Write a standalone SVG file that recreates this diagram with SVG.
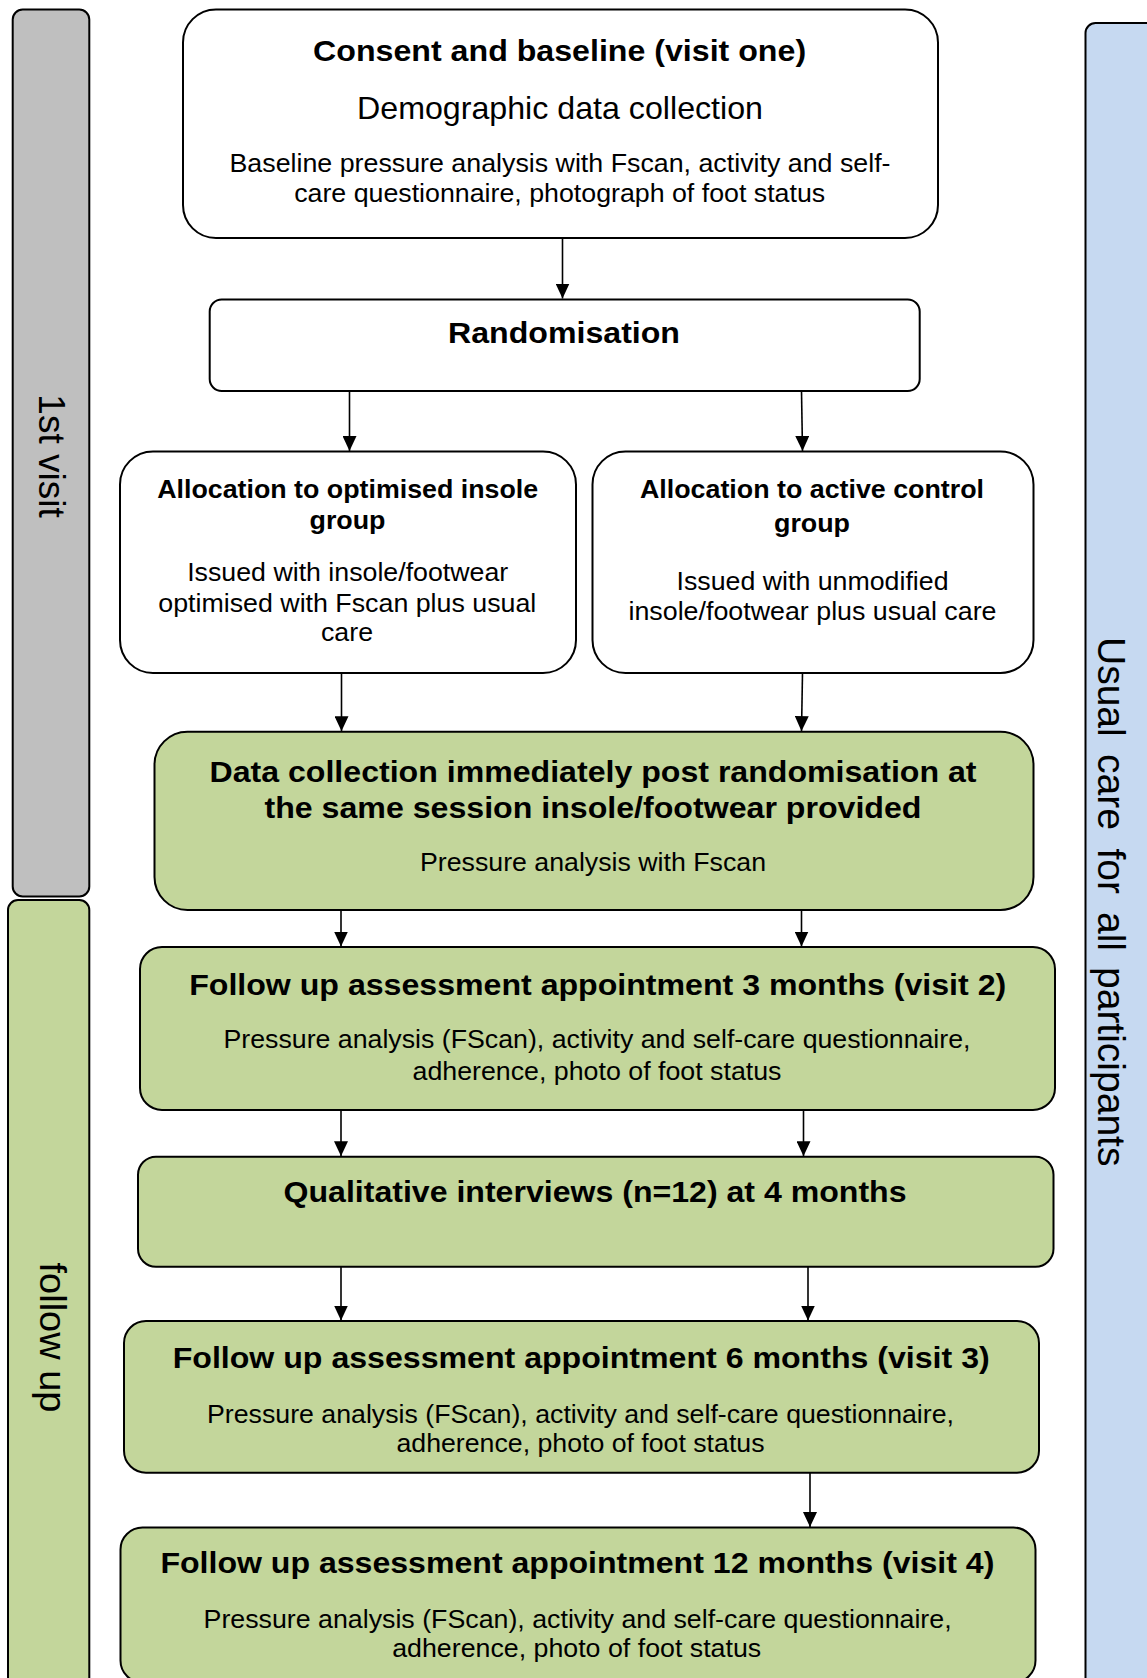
<svg xmlns="http://www.w3.org/2000/svg" width="1147" height="1678" viewBox="0 0 1147 1678">
<style>
  .box { stroke: #000; stroke-width: 2; }
  .white { fill: #ffffff; }
  .green { fill: #c3d69b; }
  .gray { fill: #bfbfbf; }
  .blue { fill: #c6d9f1; }
  text { font-family: "Liberation Sans", Arial, sans-serif; fill: #000; text-anchor: middle; }
  .t30 { font-size: 30px; font-weight: bold; }
  .t25b { font-size: 25px; font-weight: bold; }
  .t25 { font-size: 25px; }
  .t32 { font-size: 32px; }
  .side { font-size: 37px; }
  .usual { font-size: 39px; text-anchor: start; }
  .conn line { stroke: #000; stroke-width: 1.6; fill: none; }
</style>
<defs>
  <marker id="arrow" viewBox="0 0 15 14" refX="15" refY="7" markerWidth="15" markerHeight="14" markerUnits="userSpaceOnUse" orient="auto">
    <path d="M0,0 L15,7 L0,14 z" fill="#000"/>
  </marker>
</defs>
<rect width="1147" height="1678" fill="#ffffff"/>

<g id="bar-first-visit">
  <rect class="box gray" x="12.7" y="9.5" width="76.6" height="887" rx="10"/>
  <text class="side" transform="translate(38.5 456) rotate(90)">1st visit</text>
</g>
<g id="bar-follow-up">
  <rect class="box green" x="8" y="900" width="81.3" height="800" rx="10"/>
  <text class="side" transform="translate(40 1337.5) rotate(90)" textLength="150" lengthAdjust="spacingAndGlyphs">follow up</text>
</g>
<g id="bar-usual-care">
  <rect class="box blue" x="1085.5" y="23" width="80" height="1680" rx="10"/>
  <text class="usual" transform="translate(1098 0) rotate(90)"><tspan x="637">Usual</tspan><tspan x="754">care</tspan><tspan x="848.5">for</tspan><tspan x="912">all</tspan><tspan x="967">participants</tspan></text>
</g>

<g id="consent">
  <rect class="box white" x="183" y="9.5" width="755" height="228.5" rx="33"/>
  <text class="t30" x="559.6" y="60.5" textLength="493" lengthAdjust="spacingAndGlyphs">Consent and baseline (visit one)</text>
  <text class="t32" x="560" y="118.8" textLength="406" lengthAdjust="spacingAndGlyphs">Demographic data collection</text>
  <text class="t25" x="560" y="171.7" textLength="661" lengthAdjust="spacingAndGlyphs">Baseline pressure analysis with Fscan, activity and self-</text>
  <text class="t25" x="559.7" y="201.5" textLength="531" lengthAdjust="spacingAndGlyphs">care questionnaire, photograph of foot status</text>
</g>

<g id="randomisation">
  <rect class="box white" x="209.7" y="299.5" width="710" height="91.5" rx="12"/>
  <text class="t30" x="564" y="343.3" textLength="232" lengthAdjust="spacingAndGlyphs">Randomisation</text>
</g>

<g id="alloc-optimised">
  <rect class="box white" x="120" y="451.5" width="456" height="221.5" rx="33"/>
  <text class="t25b" x="347.7" y="497.8" textLength="381" lengthAdjust="spacingAndGlyphs">Allocation to optimised insole</text>
  <text class="t25b" x="347.5" y="529" textLength="76" lengthAdjust="spacingAndGlyphs">group</text>
  <text class="t25" x="347.7" y="580.7" textLength="321" lengthAdjust="spacingAndGlyphs">Issued with insole/footwear</text>
  <text class="t25" x="347.3" y="611.7" textLength="378" lengthAdjust="spacingAndGlyphs">optimised with Fscan plus usual</text>
  <text class="t25" x="347" y="640.7" textLength="52" lengthAdjust="spacingAndGlyphs">care</text>
</g>

<g id="alloc-control">
  <rect class="box white" x="592.5" y="451.5" width="441" height="221.5" rx="33"/>
  <text class="t25b" x="812" y="498.3" textLength="344" lengthAdjust="spacingAndGlyphs">Allocation to active control</text>
  <text class="t25b" x="812" y="531.7" textLength="76" lengthAdjust="spacingAndGlyphs">group</text>
  <text class="t25" x="812.5" y="590" textLength="272" lengthAdjust="spacingAndGlyphs">Issued with unmodified</text>
  <text class="t25" x="812.5" y="620" textLength="368" lengthAdjust="spacingAndGlyphs">insole/footwear plus usual care</text>
</g>

<g id="data-collection">
  <rect class="box green" x="154.5" y="731.7" width="879" height="178.3" rx="33"/>
  <text class="t30" x="593" y="781.7" textLength="767" lengthAdjust="spacingAndGlyphs">Data collection immediately post randomisation at</text>
  <text class="t30" x="593" y="818.3" textLength="657" lengthAdjust="spacingAndGlyphs">the same session insole/footwear provided</text>
  <text class="t25" x="593" y="870.7" textLength="346" lengthAdjust="spacingAndGlyphs">Pressure analysis with Fscan</text>
</g>

<g id="visit2">
  <rect class="box green" x="140" y="947" width="915" height="163" rx="22"/>
  <text class="t30" x="597.7" y="995" textLength="817" lengthAdjust="spacingAndGlyphs">Follow up assessment appointment 3 months (visit 2)</text>
  <text class="t25" x="597" y="1048.3" textLength="747" lengthAdjust="spacingAndGlyphs">Pressure analysis (FScan), activity and self-care questionnaire,</text>
  <text class="t25" x="597" y="1080" textLength="369" lengthAdjust="spacingAndGlyphs">adherence, photo of foot status</text>
</g>

<g id="qualitative">
  <rect class="box green" x="138" y="1156.7" width="915.5" height="110" rx="18"/>
  <text class="t30" x="595" y="1201.7" textLength="623" lengthAdjust="spacingAndGlyphs">Qualitative interviews (n=12) at 4 months</text>
</g>

<g id="visit3">
  <rect class="box green" x="124" y="1321" width="915" height="151.7" rx="22"/>
  <text class="t30" x="581.2" y="1368.3" textLength="817" lengthAdjust="spacingAndGlyphs">Follow up assessment appointment 6 months (visit 3)</text>
  <text class="t25" x="580.5" y="1422.7" textLength="747" lengthAdjust="spacingAndGlyphs">Pressure analysis (FScan), activity and self-care questionnaire,</text>
  <text class="t25" x="580.5" y="1451.7" textLength="368" lengthAdjust="spacingAndGlyphs">adherence, photo of foot status</text>
</g>

<g id="visit4">
  <rect class="box green" x="120.5" y="1527.5" width="915" height="155" rx="22"/>
  <text class="t30" x="577.4" y="1573.3" textLength="834" lengthAdjust="spacingAndGlyphs">Follow up assessment appointment 12 months (visit 4)</text>
  <text class="t25" x="577.6" y="1628.3" textLength="748" lengthAdjust="spacingAndGlyphs">Pressure analysis (FScan), activity and self-care questionnaire,</text>
  <text class="t25" x="576.7" y="1656.7" textLength="369" lengthAdjust="spacingAndGlyphs">adherence, photo of foot status</text>
</g>

<g id="connectors" class="conn">
  <line x1="562.5" y1="238" x2="562.5" y2="298.5" marker-end="url(#arrow)"/>
  <line x1="349.5" y1="391" x2="349.5" y2="451" marker-end="url(#arrow)"/>
  <line x1="801.5" y1="391" x2="802.5" y2="451" marker-end="url(#arrow)"/>
  <line x1="341.5" y1="673" x2="341.5" y2="731.2" marker-end="url(#arrow)"/>
  <line x1="802.5" y1="673" x2="801.5" y2="731.2" marker-end="url(#arrow)"/>
  <line x1="341" y1="910" x2="341" y2="946.5" marker-end="url(#arrow)"/>
  <line x1="801.5" y1="910" x2="801.5" y2="946.5" marker-end="url(#arrow)"/>
  <line x1="341" y1="1110" x2="341" y2="1156.2" marker-end="url(#arrow)"/>
  <line x1="803.5" y1="1110" x2="803.5" y2="1156.2" marker-end="url(#arrow)"/>
  <line x1="341" y1="1266.7" x2="341" y2="1320.5" marker-end="url(#arrow)"/>
  <line x1="808" y1="1266.7" x2="808" y2="1320.5" marker-end="url(#arrow)"/>
  <line x1="810" y1="1472.7" x2="810" y2="1527" marker-end="url(#arrow)"/>
</g>
</svg>
